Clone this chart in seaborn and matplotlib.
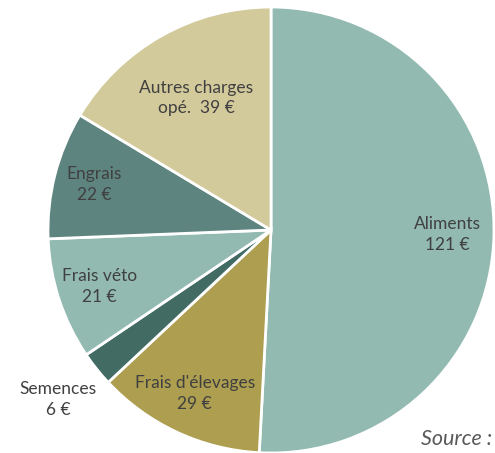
import numpy as np
import matplotlib
matplotlib.use("Agg")
import matplotlib.pyplot as plt
import seaborn as sns

categories = ["Aliments", "Frais d'élevages", "Semences", "Frais véto", "Engrais", "Autres charges\nopé. "]
values = [121, 29, 6, 21, 22, 39]
colors = ["#92BAB1", "#AD9E50", "#416B63", "#92BAB1", "#5E8480", "#D3CA9C"]
label_radius = [0.79, 0.81, 1.22, 0.81, 0.82, 0.68]

sns.set_theme(style="white")
plt.rcParams['font.family'] = ['Lato', 'DejaVu Sans']

fig = plt.figure(figsize=(4.95, 4.53), dpi=100)
R = 223
cx, cy = 271, 453 - 230
ax = fig.add_axes([(cx - R) / 495, (cy - R) / 453, 2 * R / 495, 2 * R / 453])
wedges, _ = ax.pie(values, colors=colors, startangle=90, counterclock=False,
                   wedgeprops=dict(edgecolor="white", linewidth=2), radius=1)
ax.set_xlim(-1, 1)
ax.set_ylim(-1, 1)
ax.set_aspect("equal")
ax.axis("off")

for w, cat, v, r in zip(wedges, categories, values, label_radius):
    mid = np.deg2rad((w.theta1 + w.theta2) / 2)
    if cat.endswith(" "):
        txt = f"{cat} {v} €"
    else:
        txt = f"{cat}\n{v} €"
    ax.text(r * np.cos(mid), r * np.sin(mid), txt, ha="center", va="center",
            fontsize=12.5, color="#404040", linespacing=1.35)

fig.text(421 / 495, 4 / 453, "Source :", ha="left", va="bottom", fontsize=15.5,
         style="italic", color="#595959")

fig.savefig("out.png", dpi=100)
